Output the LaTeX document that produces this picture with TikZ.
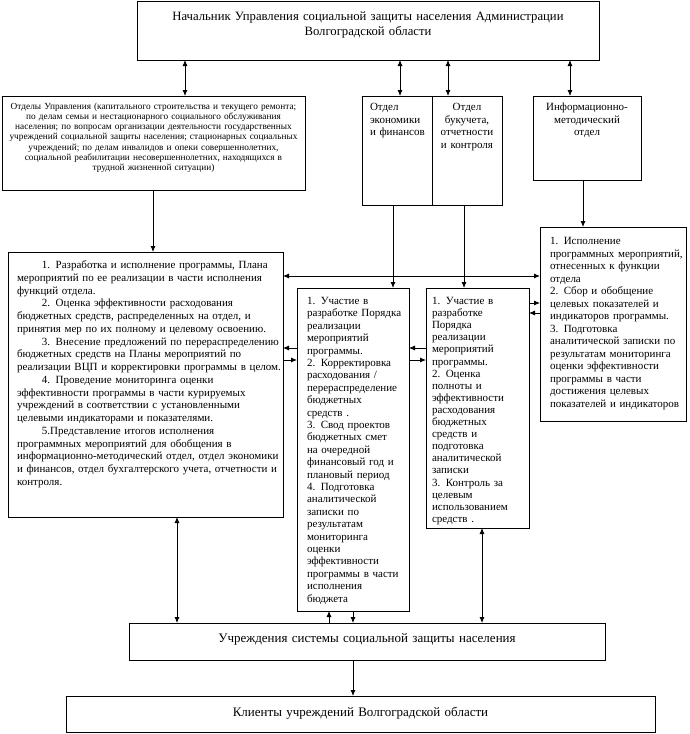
\documentclass[tikz,border=0pt]{standalone}
\usepackage{fontspec}
\setmainfont{Liberation Serif}
\usetikzlibrary{arrows.meta}
\newcommand\myfs[2]{\fontsize{#1}{#2}\selectfont}
\newcommand\lp[1]{\leftskip=#1\relax}
\newcommand\ind{\hspace*{25pt}}
\begin{document}
\begin{tikzpicture}[x=1pt,y=-1pt,
  box/.style={draw, line width=0.8pt, anchor=north west, inner ysep=0pt, outer sep=0pt},
  con/.style={line width=0.8pt},
  >={Latex[length=6pt,width=5pt]}]
\useasboundingbox (0,0) rectangle (690,734);

\node[box, font=\myfs{12.7}{15}, align=center, inner xsep=5pt, text width=452pt,
  text height=19pt, text depth=40pt] (top) at (137,1)
  {Начальник Управления социальной защиты населения Администрации\\ Волгоградской области};

\node[box, font=\myfs{9.3}{10.3}, align=center, inner xsep=3pt, text width=297pt,
  text height=13pt, text depth=81pt] (dept) at (2,96)
  {Отделы Управления (капитального строительства и текущего ремонта;\\ по делам семьи и нестационарного социального обслуживания\\ населения; по вопросам организации деятельности государственных\\ учреждений социальной защиты населения; стационарных социальных\\ учреждений; по делам инвалидов и опеки совершеннолетних,\\ социальной реабилитации несовершеннолетних, находящихся в\\ трудной жизненной ситуации)};

\node[box, font=\myfs{11}{12.5}, align=left, inner xsep=2pt, text width=66pt,
  text height=14.5pt, text depth=94.5pt] (econ) at (362,96)
  {\lp{6pt}Отдел\\экономики\\и финансов\par};

\node[box, font=\myfs{11}{12.5}, align=center, inner xsep=2pt, text width=66pt,
  text height=14.5pt, text depth=94.5pt] (buh) at (432,96)
  {Отдел\\букучета,\\отчетности\\и контроля};

\node[box, font=\myfs{11}{12.5}, align=center, inner xsep=2pt, text width=104pt,
  text height=14.5pt, text depth=69.5pt] (info) at (533,96)
  {Информационно-\\методический\\отдел};

\node[box, font=\myfs{11}{12.75}, align=left, inner xsep=2pt, text width=271pt,
  text height=16.5pt, text depth=248.5pt] (left) at (8,252)
  {\lp{7pt}\ind 1. Разработка и исполнение программы, Плана\\
  мероприятий по ее реализации  в части исполнения\\
  функций отдела.\\
  \ind 2. Оценка эффективности  расходования\\
  бюджетных средств, распределенных на отдел,  и\\
  принятия мер по их полному и целевому освоению.\\
  \ind 3.  Внесение предложений по перераспределению\\
  бюджетных средств на Планы мероприятий по\\
  реализации ВЦП и корректировки программы в целом.\\
  \ind 4. Проведение мониторинга оценки\\
  эффективности программы в части курируемых\\
  учреждений в соответствии с установленными\\
  целевыми индикаторами и показателями.\\
  \ind 5.Представление итогов исполнения\\
  программных мероприятий для обобщения в\\
  информационно-методический отдел, отдел экономики\\
  и финансов, отдел бухгалтерского учета, отчетности и\\
  контроля.\par};

\node[box, font=\myfs{11}{12.4}, align=left, inner xsep=2pt, text width=108pt,
  text height=16.5pt, text depth=306.5pt] (mid1) at (297,288)
  {\lp{8pt}1. Участие в\\ разработке Порядка\\ реализации\\ мероприятий\\ программы.\\
  2. Корректировка\\ расходования /\\ перераспределение\\ бюджетных\\ средств .\\
  3. Свод проектов\\ бюджетных смет\\ на очередной\\ финансовый год и\\ плановый период\\
  4. Подготовка\\ аналитической\\ записки по\\ результатам\\ мониторинга\\ оценки\\
  эффективности\\ программы в части\\ исполнения\\ бюджета\par};

\node[box, font=\myfs{11}{12.1}, align=left, inner xsep=2pt, text width=99pt,
  text height=16.5pt, text depth=223.5pt] (mid2) at (426,288)
  {\lp{4pt}1. Участие в\\ разработке\\ Порядка\\ реализации\\ мероприятий\\ программы.\\
  2. Оценка\\ полноты и\\ эффективности\\ расходования\\ бюджетных\\ средств и\\
  подготовка\\ аналитической\\ записки\\ 3. Контроль за\\ целевым\\ использованием\\ средств .\par};

\node[box, font=\myfs{11}{12.5}, align=left, inner xsep=2pt, text width=142pt,
  text height=17.5pt, text depth=176.5pt] (right) at (540,227)
  {\lp{8pt}1. Исполнение\\ программных мероприятий,\\ отнесенных к функции\\ отдела\\
  2. Сбор и  обобщение\\ целевых показателей и\\ индикаторов программы.\\
  3. Подготовка\\ аналитической записки по\\ результатам мониторинга\\
  оценки эффективности\\ программы в части\\ достижения целевых\\ показателей и индикаторов\par};

\node[box, font=\myfs{13}{15}, align=center, inner xsep=2pt, text width=472pt,
  text height=19.5pt, text depth=17.5pt] (uch) at (129,623)
  {Учреждения системы социальной защиты населения};

\node[box, font=\myfs{13}{15}, align=center, inner xsep=2pt, text width=585pt,
  text height=20.5pt, text depth=15.5pt] (kl) at (66,696)
  {Клиенты учреждений Волгоградской области};

% helper coordinates
\coordinate (v185) at (185,0);
\coordinate (v400) at (400,0);
\coordinate (v448) at (448,0);
\coordinate (v570) at (570,0);
\coordinate (v153) at (153,0);
\coordinate (v393) at (393,0);
\coordinate (v464) at (464,0);
\coordinate (v583) at (583,0);
\coordinate (v177) at (177,0);
\coordinate (v329) at (329,0);
\coordinate (v353) at (353,0);
\coordinate (v482) at (482,0);
\coordinate (h276) at (0,276);
\coordinate (h303) at (0,303);
\coordinate (h313) at (0,313);
\coordinate (h348) at (0,348);
\coordinate (h360) at (0,360);

\draw[con,<->] (top.south -| v185) -- (dept.north -| v185);
\draw[con,<->] (top.south -| v400) -- (econ.north -| v400);
\draw[con,<->] (top.south -| v448) -- (buh.north -| v448);
\draw[con,<->] (top.south -| v570) -- (info.north -| v570);

\draw[con,->] (dept.south -| v153) -- (left.north -| v153);
\draw[con,->] (econ.south -| v393) -- (mid1.north -| v393);
\draw[con,->] (buh.south -| v464) -- (mid2.north -| v464);
\draw[con,->] (info.south -| v583) -- (right.north -| v583);

\draw[con,<->] (left.east |- h276) -- (right.west |- h276);

\draw[con,->] (mid1.west |- h348) -- (left.east |- h348);
\draw[con,->] (left.east |- h360) -- (mid1.west |- h360);
\draw[con,->] (mid2.west |- h348) -- (mid1.east |- h348);
\draw[con,->] (mid1.east |- h360) -- (mid2.west |- h360);
\draw[con,->] (mid2.east |- h303) -- (right.west |- h303);
\draw[con,->] (right.west |- h313) -- (mid2.east |- h313);

\draw[con,<->] (left.south -| v177) -- (uch.north -| v177);
\draw[con,->] (uch.north -| v329) -- (mid1.south -| v329);
\draw[con,->] (mid1.south -| v353) -- (uch.north -| v353);
\draw[con,<->] (mid2.south -| v482) -- (uch.north -| v482);
\draw[con,->] (uch.south -| v353) -- (kl.north -| v353);
\end{tikzpicture}
\end{document}
